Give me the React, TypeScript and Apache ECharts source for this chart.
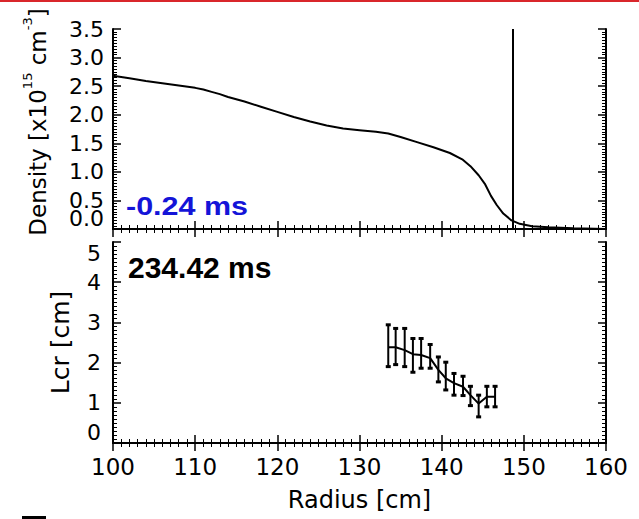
import React, { useEffect, useRef } from "react";
import * as echarts from "echarts";

// Top panel: density profile
const densityRadius = [100, 102, 104, 106, 108, 110, 111, 112, 113, 114, 116, 118, 120, 122, 124, 126, 128, 130, 132, 133.5, 135, 137, 139, 141, 142.5, 143.5, 144.5, 145.3, 146.0, 146.7, 147.5, 148.5, 149.5, 151, 153, 156, 160];
const densityValues = [2.68, 2.64, 2.59, 2.55, 2.51, 2.47, 2.44, 2.4, 2.36, 2.31, 2.23, 2.14, 2.05, 1.96, 1.88, 1.81, 1.76, 1.73, 1.7, 1.67, 1.61, 1.52, 1.43, 1.33, 1.22, 1.1, 0.94, 0.78, 0.58, 0.42, 0.27, 0.15, 0.09, 0.05, 0.03, 0.012, 0.0];
const markerRadius = 148.65;

// Bottom panel: Lcr with error bars
const lcrRadius = [133.5, 134.4, 135.5, 136.5, 137.5, 138.6, 139.6, 140.5, 141.5, 142.6, 143.5, 144.5, 145.5, 146.5];
const lcrValues = [2.38, 2.38, 2.31, 2.21, 2.19, 2.11, 1.82, 1.61, 1.49, 1.4, 1.19, 0.98, 1.15, 1.15];
const lcrLow = [1.9, 1.95, 1.9, 1.76, 1.86, 1.86, 1.52, 1.32, 1.19, 1.18, 0.93, 0.65, 0.9, 0.9];
const lcrHigh = [2.94, 2.85, 2.85, 2.6, 2.6, 2.45, 2.14, 2.01, 1.73, 1.66, 1.41, 1.19, 1.41, 1.41];

const xTicks = [100, 110, 120, 130, 140, 150, 160];
const densityTicks = [0, 0.5, 1, 1.5, 2, 2.5, 3, 3.5];
const lcrTicks = [0, 1, 2, 3, 4, 5];

const FONT = "DejaVu Sans";

export default function App() {
  const ref = useRef<HTMLDivElement>(null);
  useEffect(() => {
    if (!ref.current) return;
    const chart = echarts.init(ref.current, undefined, { renderer: "svg" });
    const axisLine = { show: true, lineStyle: { color: "#000", width: 2 } };
    const tick = { show: true, inside: true, length: 8, lineStyle: { color: "#000", width: 1.5 } };
    const minor = { show: true, splitNumber: 10, length: 4, lineStyle: { color: "#000", width: 1 } };
    const xBase = (grid: number, pos: string, labels: boolean) => ({
      type: "value",
      gridIndex: grid,
      position: pos,
      min: xTicks[0],
      max: xTicks[xTicks.length - 1],
      interval: xTicks[1] - xTicks[0],
      axisLine,
      axisTick: tick,
      minorTick: minor,
      splitLine: { show: false },
      axisLabel: labels
        ? { show: true, color: "#000", fontSize: 23, fontFamily: FONT, margin: 12, showMinLabel: true, showMaxLabel: true }
        : { show: false },
    });
    const yBase = (grid: number, pos: string, labels: boolean, ticks: number[], digits: number, skipZero = false) => ({
      type: "value",
      gridIndex: grid,
      position: pos,
      min: ticks[0],
      max: ticks[ticks.length - 1],
      interval: ticks[1] - ticks[0],
      axisLine,
      axisTick: tick,
      minorTick: minor,
      splitLine: { show: false },
      axisLabel: labels
        ? {
            show: true,
            color: "#000",
            fontSize: 22,
            fontFamily: FONT,
            margin: grid === 0 ? 9 : 12,
            showMinLabel: true,
            showMaxLabel: true,
            formatter: (v: number) => (skipZero && v === 0 ? "" : v.toFixed(digits)),
            verticalAlignMinLabel: "bottom",
            verticalAlignMaxLabel: grid === 1 ? "top" : "middle",
          }
        : { show: false },
    });

    const errData = lcrRadius.map((r, i) => [r, lcrLow[i], lcrHigh[i]]);

    chart.setOption({
      animation: false,
      backgroundColor: "#fff",
      grid: [
        { left: 113, width: 493, top: 29, height: 200 },
        { left: 113, width: 493, top: 242, height: 201 },
      ],
      xAxis: [
        xBase(0, "bottom", false),
        xBase(0, "top", false),
        {
          ...xBase(1, "bottom", true),
          name: "Radius [cm]",
          nameLocation: "middle",
          nameGap: 45,
          nameTextStyle: { color: "#000", fontSize: 24, fontFamily: FONT },
        },
        xBase(1, "top", false),
      ],
      yAxis: [
        {
          ...yBase(0, "left", true, densityTicks, 1, true),
          name: "{n|Density [x10}{s|15}{n| cm}{s|-3}{n|]}",
          nameLocation: "middle",
          nameGap: 64,
          nameRotate: 90,
          nameTextStyle: {
            color: "#000",
            fontFamily: FONT,
            fontSize: 23,
            padding: [0, 0, 0, 14],
            rich: {
              n: { fontSize: 23, fontFamily: FONT, color: "#000", lineHeight: 28, verticalAlign: "bottom" },
              s: { fontSize: 13, fontFamily: FONT, color: "#000", lineHeight: 28, verticalAlign: "top" },
            },
          },
        },
        yBase(0, "right", false, densityTicks, 1),
        {
          ...yBase(1, "left", true, lcrTicks, 0),
          name: "Lcr [cm]",
          nameLocation: "middle",
          nameGap: 40,
          nameRotate: 90,
          nameTextStyle: { color: "#000", fontSize: 25, fontFamily: FONT },
        },
        yBase(1, "right", false, lcrTicks, 0),
        {
          // label-only axis carrying the squeezed "0.0" label of the density panel
          type: "value",
          gridIndex: 0,
          position: "left",
          min: densityTicks[0],
          max: densityTicks[densityTicks.length - 1],
          interval: densityTicks[1] - densityTicks[0],
          axisLine: { show: false },
          axisTick: { show: false },
          splitLine: { show: false },
          axisLabel: {
            show: true,
            color: "#000",
            fontSize: 22,
            fontFamily: FONT,
            margin: 9,
            showMinLabel: true,
            formatter: (v: number) => (v === 0 ? "0.0" : ""),
            verticalAlignMinLabel: "bottom",
          },
        },
      ],
      series: [
        {
          type: "line",
          xAxisIndex: 0,
          yAxisIndex: 0,
          data: densityRadius.map((r, i) => [r, densityValues[i]]),
          showSymbol: false,
          lineStyle: { color: "#000", width: 2 },
          markLine: {
            silent: true,
            symbol: "none",
            label: { show: false },
            lineStyle: { color: "#000", width: 2, type: "solid" },
            data: [{ xAxis: markerRadius }],
          },
        },
        {
          type: "line",
          xAxisIndex: 2,
          yAxisIndex: 2,
          data: lcrRadius.map((r, i) => [r, lcrValues[i]]),
          showSymbol: false,
          lineStyle: { color: "#000", width: 2 },
        },
        {
          type: "custom",
          xAxisIndex: 2,
          yAxisIndex: 2,
          data: errData,
          renderItem: (params: any, api: any) => {
            const x = api.value(0);
            const lo = api.coord([x, api.value(1)]);
            const hi = api.coord([x, api.value(2)]);
            const cap = 2.5;
            const style = { stroke: "#000", lineWidth: 2 };
            return {
              type: "group",
              children: [
                { type: "line", shape: { x1: lo[0], y1: lo[1], x2: hi[0], y2: hi[1] }, style },
                { type: "line", shape: { x1: lo[0] - cap, y1: lo[1], x2: lo[0] + cap, y2: lo[1] }, style: { stroke: "#000", lineWidth: 3 } },
                { type: "line", shape: { x1: hi[0] - cap, y1: hi[1], x2: hi[0] + cap, y2: hi[1] }, style: { stroke: "#000", lineWidth: 3 } },
              ],
            };
          },
        },
      ],
      graphic: [
        { type: "rect", shape: { x: 0, y: 0, width: 639, height: 2 }, style: { fill: "#d9262b" } },
        { type: "rect", shape: { x: 22, y: 516, width: 24, height: 3 }, style: { fill: "#000" } },
        {
          type: "text",
          x: 126,
          y: 194,
          scaleX: 1.22,
          style: { text: "-0.24 ms", fill: "#1414d8", font: "bold 25px 'Liberation Sans', Arial, sans-serif" },
        },
        {
          type: "text",
          x: 128,
          y: 252,
          style: { text: "234.42 ms", fill: "#000", font: "bold 30px 'Liberation Sans', Arial, sans-serif" },
        },
      ],
    });
    return () => chart.dispose();
  }, []);
  return <div ref={ref} style={{ position: "fixed", left: 0, top: 0, width: 639, height: 519 }} />;
}
